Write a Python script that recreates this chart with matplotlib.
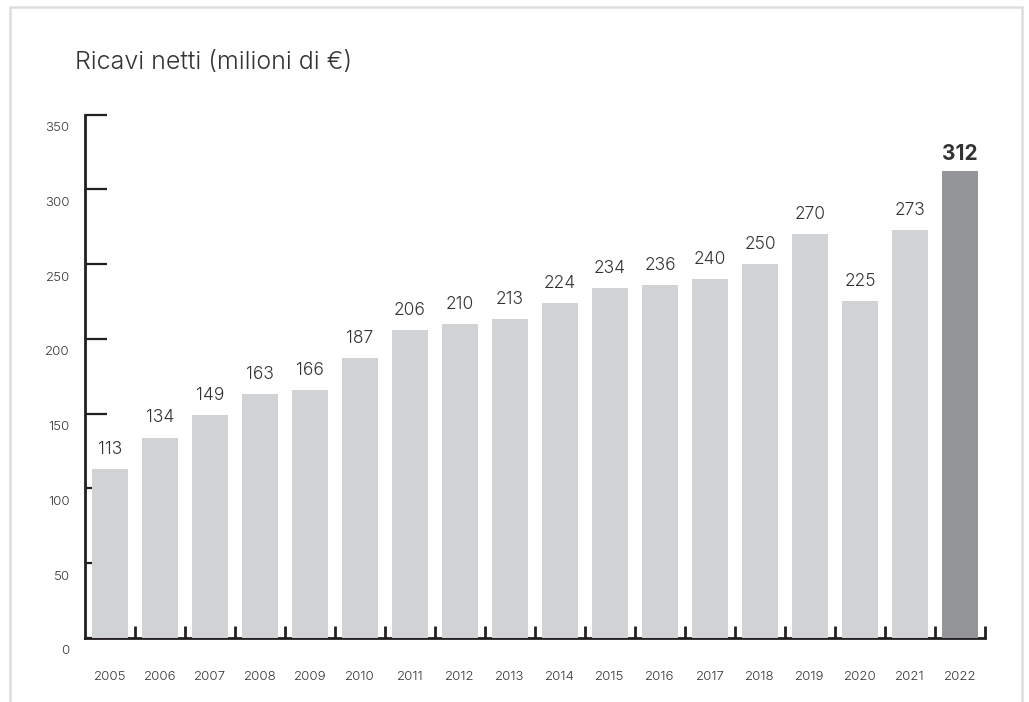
import numpy as np
import matplotlib.pyplot as plt
from matplotlib.patches import Rectangle
from matplotlib.transforms import ScaledTranslation

plt.rcParams['font.family'] = ['Inter', 'DejaVu Sans']

anni = ['2005', '2006', '2007', '2008', '2009', '2010', '2011', '2012', '2013',
        '2014', '2015', '2016', '2017', '2018', '2019', '2020', '2021', '2022']
ricavi = [113, 134, 149, 163, 166, 187, 206, 210, 213,
          224, 234, 236, 240, 250, 270, 225, 273, 312]
y_ticks = [0, 50, 100, 150, 200, 250, 300, 350]

chiaro = '#d1d2d4'
scuro = '#939598'
testo = '#333333'

fig = plt.figure(figsize=(10.29, 7.02), dpi=100)
ax = fig.add_axes([85/1029, 64/702, 900/1029, 523.5/702])

# cornice grigia chiara attorno al grafico
fig.patches.append(Rectangle((10/1029, -0.05), 1012/1029, 1.05 - 7/702,
                             transform=fig.transFigure, fill=False,
                             edgecolor='#dddddd', lw=1.8))

x = np.arange(len(anni))
colori = [chiaro] * (len(anni) - 1) + [scuro]
ax.bar(x, ricavi, width=0.72, color=colori, zorder=3)

for i, v in enumerate(ricavi):
    if i == len(ricavi) - 1:
        ax.annotate(str(v), (i, v), xytext=(0, 5), textcoords='offset points',
                    ha='center', va='bottom', fontsize=15, fontweight='bold',
                    color=testo)
    else:
        ax.annotate(str(v), (i, v), xytext=(0, 8), textcoords='offset points',
                    ha='center', va='bottom', fontsize=12.5, fontweight=300,
                    color=testo)

ax.set_xlim(-0.5, len(anni) - 0.5)
ax.set_ylim(0, 350)

for s in ['top', 'right']:
    ax.spines[s].set_visible(False)
for s in ['left', 'bottom']:
    ax.spines[s].set_linewidth(2)
    ax.spines[s].set_color('#231f20')

ax.set_yticks(y_ticks)
ax.set_yticklabels([str(t) for t in y_ticks])
ax.tick_params(axis='y', direction='in', length=16, width=1.6, color='#231f20',
               labelsize=9.5, labelcolor=testo, pad=11)
off = ScaledTranslation(0, -12/100, fig.dpi_scale_trans)
for lab in ax.get_yticklabels():
    lab.set_transform(lab.get_transform() + off)
    lab.set_fontweight(300)

ax.set_xticks(x)
ax.set_xticklabels(anni, fontweight=300)
ax.tick_params(axis='x', which='major', length=0, labelsize=9.5,
               labelcolor=testo, pad=24)
ax.set_xticks(np.arange(len(anni)) + 0.5, minor=True)
ax.tick_params(axis='x', which='minor', direction='in', length=9, width=2,
               color='#231f20')

fig.text(75/1029, 1 - 63/702, 'Ricavi netti (milioni di €)', fontsize=18,
         fontweight=300, color=testo, va='center', ha='left')

fig.savefig('out.png', dpi=100)
